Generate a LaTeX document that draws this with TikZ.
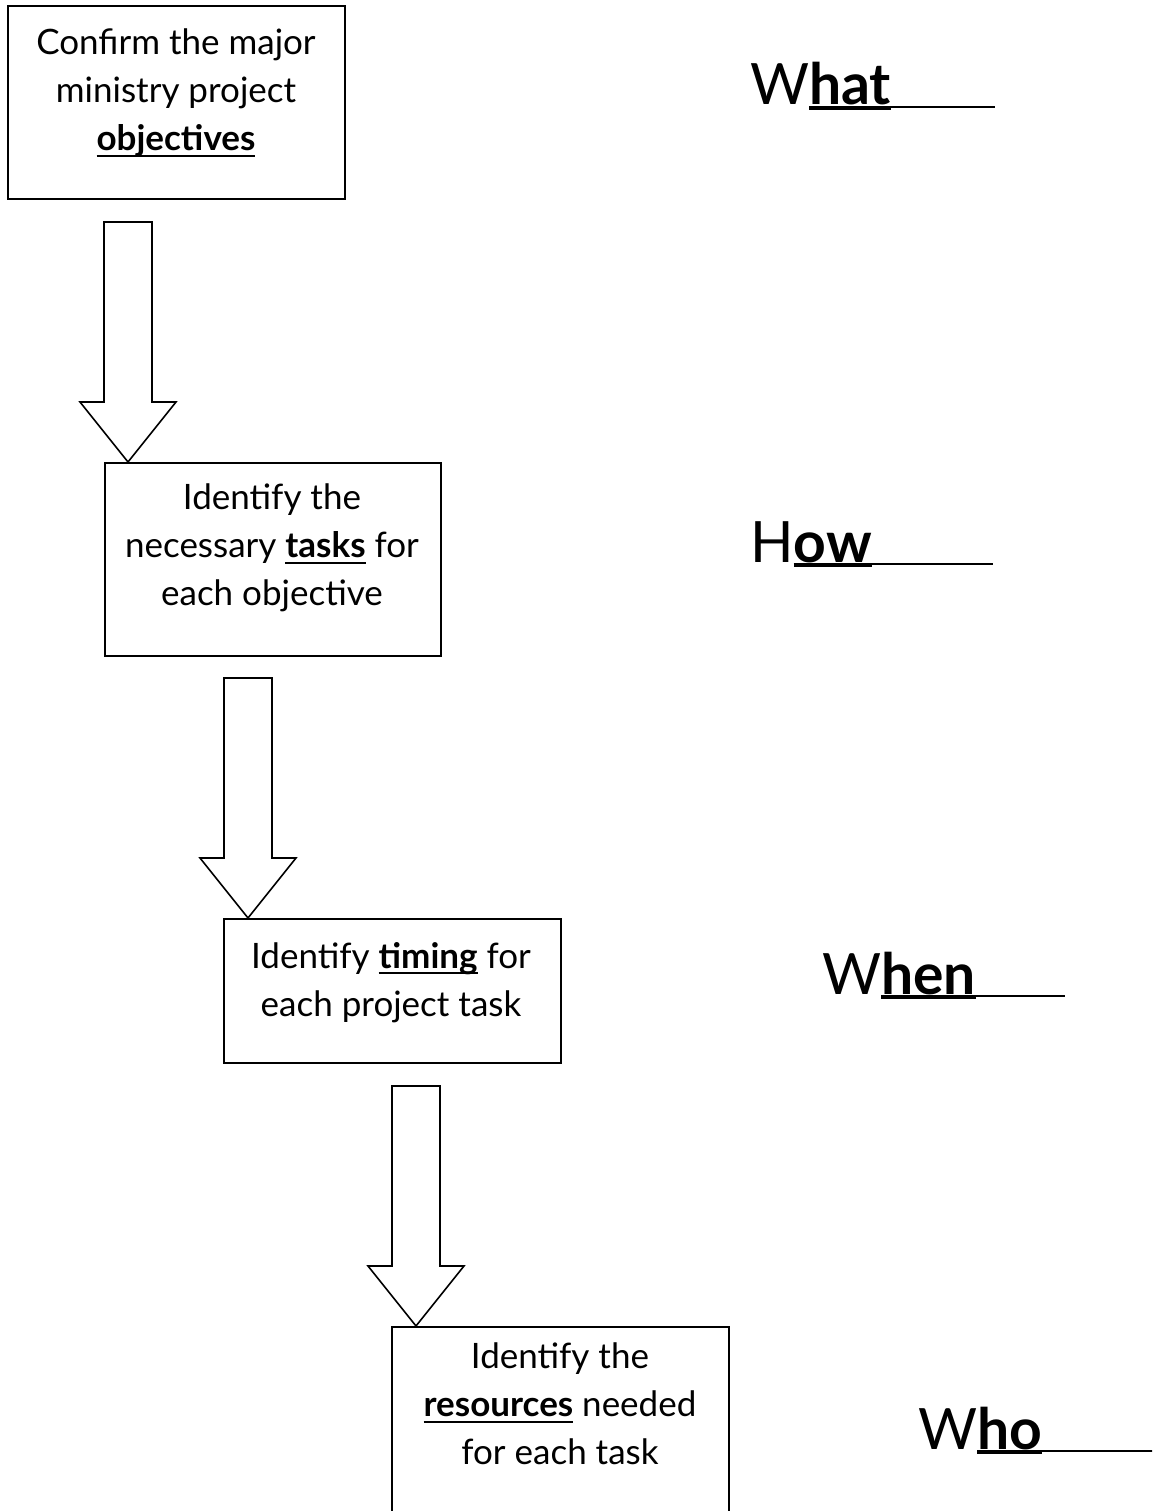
\documentclass[tikz,border=0pt]{standalone}
\usepackage{fontspec}
\setmainfont{Lato}
\usetikzlibrary{calc}

% bold word with a rule beneath it: #1 = top of rule below baseline, #2 = bottom, #3 = word
\newsavebox{\keybox}
\newcommand{\ruledword}[3]{\sbox{\keybox}{\textbf{#3}}%
  \rlap{\vrule height -#1 depth #2 width \wd\keybox}\usebox{\keybox}}
\newcommand{\keyword}[1]{\ruledword{4pt}{6.2pt}{#1}}
\newcommand{\bigkey}[1]{\ruledword{1pt}{5pt}{#1}}

\tikzset{
  stepbox/.style={draw, line width=1.6pt, rectangle, inner sep=0pt, anchor=north west},
  steptext/.style={align=center, anchor=north, inner sep=0pt,
                   font=\fontsize{35}{48}\selectfont},
  blockarrow/.style={draw, line width=1.6pt, fill=white, line join=miter},
  question/.style={anchor=base west, inner sep=0pt, font=\fontsize{57}{70}\selectfont},
  blankline/.style={line width=1.4pt},
}

% hollow block arrow whose tip lies at #1 (shaft 48 wide, head 96 wide)
\newcommand{\blockdown}[1]{%
  \draw[blockarrow] #1 -- ++(-48,-60) -- ++(24,0) -- ++(0,-180)
    -- ++(48,0) -- ++(0,180) -- ++(24,0) -- cycle;}

\begin{document}
\begin{tikzpicture}[x=1pt,y=-1pt]
\useasboundingbox (0,0) rectangle (1152,1511);
\clip (0,0) rectangle (1152,1511);

% process boxes
\node[stepbox, minimum width=337pt, minimum height=193pt] (b1) at (7,5) {};
\node[stepbox, minimum width=336pt, minimum height=193pt] (b2) at (104,462) {};
\node[stepbox, minimum width=337pt, minimum height=144pt] (b3) at (223,918) {};
\node[stepbox, minimum width=337pt, minimum height=220pt] (b4) at (391,1326) {};

% box texts
\node[steptext] (t1) at (176,29) {Confirm the major\\ministry project\\\keyword{objectives}};
\node[steptext] (t2) at (272,484) {Identify the\\necessary \keyword{tasks} for\\each objective};
\node[steptext] (t3) at (391,942) {Identify \keyword{timing} for\\each project task};
\node[steptext] (t4) at (560,1343) {Identify the\\\keyword{resources} needed\\for each task};

% block arrows between the steps
\blockdown{($(b2.north west)+(24,0)$)}
\blockdown{($(b3.north west)+(25,0)$)}
\blockdown{($(b4.north west)+(25,0)$)}

% questions with blanks
\node[question] (q1) at (750,105) {W\bigkey{hat}};
\node[question] (q2) at (750,562) {H\bigkey{ow}};
\node[question] (q3) at (822,994) {W\bigkey{hen}};
\node[question] (q4) at (918,1449) {W\bigkey{ho}};

\coordinate (e1) at (995,107);
\coordinate (e2) at (993,564);
\coordinate (e3) at (1065,996);
\coordinate (e4) at (1160,1451);
\draw[blankline] (q1.base east) ++(0,2) -- (e1);
\draw[blankline] (q2.base east) ++(0,2) -- (e2);
\draw[blankline] (q3.base east) ++(0,2) -- (e3);
\draw[blankline] (q4.base east) ++(0,2) -- (e4);
\end{tikzpicture}
\end{document}
